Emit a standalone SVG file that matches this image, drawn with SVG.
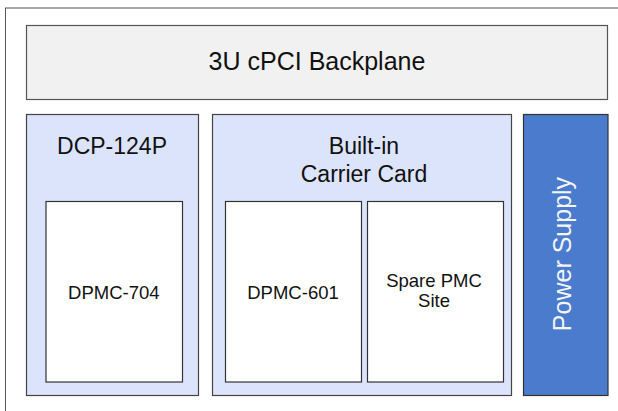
<svg xmlns="http://www.w3.org/2000/svg" width="618" height="411" viewBox="0 0 618 411">
<style>
text{font-family:"Liberation Sans",Arial,sans-serif;fill:#111;text-anchor:middle}
.frame{fill:#fff;stroke:#555;stroke-width:1}
.bp{fill:#f1f1f1;stroke:#555;stroke-width:1.2}
.card{fill:#dce4fc;stroke:#444;stroke-width:1.2}
.pmc{fill:#fff;stroke:#333;stroke-width:1.2}
.ps{fill:#4a7bcc;stroke:#333;stroke-width:1.2}
.t24{font-size:25px}
.t22{font-size:23px}
.t18{font-size:18.5px}
</style>
<rect width="618" height="411" fill="#fff"/>
<rect class="frame" x="5.5" y="8" width="640" height="420"/>
<g id="backplane">
<rect class="bp" x="26.5" y="25.5" width="581" height="74"/>
<text class="t24" x="317" y="70">3U cPCI Backplane</text>
</g>
<g id="dcp124p">
<rect class="card" x="26.5" y="114.5" width="172" height="281"/>
<text class="t22" x="112" y="153.5">DCP-124P</text>
</g>
<g id="dpmc704">
<rect class="pmc" x="46" y="201.5" width="136.5" height="180.5"/>
<text class="t18" x="113.8" y="298.5">DPMC-704</text>
</g>
<g id="carrier">
<rect class="card" x="212.5" y="114.5" width="299" height="281"/>
<text class="t22" x="364" y="153.5">Built-in</text>
<text class="t22" x="364" y="181.5">Carrier Card</text>
</g>
<g id="dpmc601">
<rect class="pmc" x="225.5" y="201.5" width="136" height="180.5"/>
<text class="t18" x="293" y="298.5">DPMC-601</text>
</g>
<g id="spare">
<rect class="pmc" x="367.5" y="201.5" width="136" height="180.5"/>
<text class="t18" x="434" y="286.5">Spare PMC</text>
<text class="t18" x="434" y="306.5">Site</text>
</g>
<g id="power">
<rect class="ps" x="523.5" y="114.5" width="84.5" height="281"/>
<text class="t24" x="0" y="0" style="fill:#f4f6fb;font-size:25px" transform="translate(571 254) rotate(-90)">Power Supply</text>
</g>
<g id="connectors"/>
</svg>
